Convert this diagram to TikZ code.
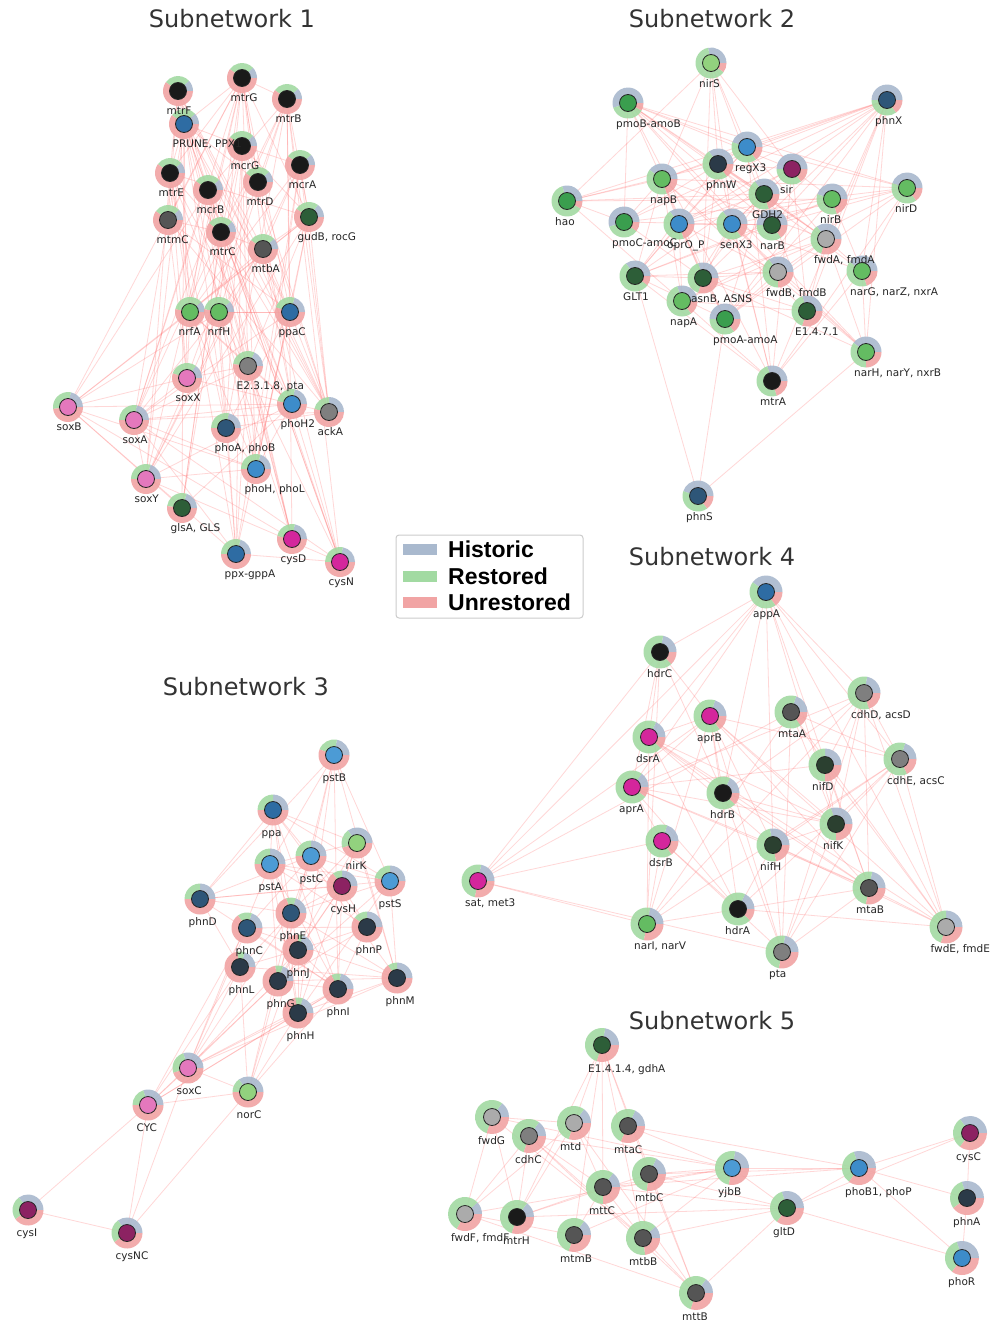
\documentclass[tikz,border=0pt]{standalone}
\usepackage{fontspec}
\setmainfont{DejaVu Sans}
\newfontfamily\legfont{Liberation Sans}
\definecolor{histc}{HTML}{A9B9CE}
\definecolor{restc}{HTML}{A2DAA2}
\definecolor{unrc}{HTML}{F1A4A4}
\definecolor{edgec}{HTML}{FF7070}
\definecolor{cBlk}{HTML}{1A1A1A}
\definecolor{cDg}{HTML}{555555}
\definecolor{cMg}{HTML}{7F7F7F}
\definecolor{cLg}{HTML}{ABABAB}
\definecolor{cGd}{HTML}{2D5E38}
\definecolor{cGm}{HTML}{3A9E4E}
\definecolor{cGl}{HTML}{64BC62}
\definecolor{cGp}{HTML}{92D27E}
\definecolor{cBm}{HTML}{3D8CCA}
\definecolor{cBl}{HTML}{4C9BD5}
\definecolor{cBd}{HTML}{2E6CA3}
\definecolor{cSl}{HTML}{2E5678}
\definecolor{cSd}{HTML}{2B3A48}
\definecolor{cPk}{HTML}{E478BD}
\definecolor{cMa}{HTML}{D4269C}
\definecolor{cPu}{HTML}{8C2262}
\definecolor{cNf}{HTML}{2B4030}
\pgfdeclarelayer{back}
\pgfdeclarelayer{bg}
\pgfdeclarelayer{fg}
\pgfsetlayers{back,bg,main,fg}
% #1 id, #2 x, #3 y, #4 historic %, #5 restored %, #6 inner colour, #7 label
\newcommand\gn[7]{%
  \pgfmathsetmacro\gnA{3.6*#4}%
  \pgfmathsetmacro\gnB{3.6*(#4+#5)}%
  \fill[histc, fill opacity=0.9] (#2,-#3) -- ++(0:\RR) arc[start angle=0, end angle=\gnA, radius=\RR] -- cycle;
  \fill[restc, fill opacity=0.9] (#2,-#3) -- ++(\gnA:\RR) arc[start angle=\gnA, end angle=\gnB, radius=\RR] -- cycle;
  \fill[unrc, fill opacity=0.9] (#2,-#3) -- ++(\gnB:\RR) arc[start angle=\gnB, end angle=360, radius=\RR] -- cycle;
  \node[coreC, fill=#6] (#1) at (#2,-#3) {};
  \begin{pgfonlayer}{fg}\node[lab] at ({#2-\LX},{-#3-\LO}) {#7};\end{pgfonlayer}%
}
\begin{document}
\begin{tikzpicture}[x=1pt, y=1pt,
  lnk/.style={draw=edgec, line width=0.8pt, opacity=0.28},
  coreC/.style={circle, draw=black!85, line width=0.8pt, minimum size=17pt, inner sep=0pt},
  lab/.style={anchor=base west, inner sep=0pt, font=\fontsize{10.5}{12}\selectfont, text=black!85},
  ttl/.style={anchor=base, inner sep=0pt, font=\fontsize{24}{28}\selectfont, text=black!80},
  leg/.style={anchor=west, inner sep=0pt, font=\legfont\bfseries\fontsize{23}{26}\selectfont, text=black}]
\begin{pgfonlayer}{back}
\fill[white] (0,0) rectangle (990,-1325);
\end{pgfonlayer}
\useasboundingbox (0,0) rectangle (990,-1325);

% titles
\node[ttl] (t1) at (232,-27.5) {Subnetwork 1};
\node[ttl] (t2) at (712,-27.5) {Subnetwork 2};
\node[ttl] (t3) at (246,-695.5) {Subnetwork 3};
\node[ttl] (t4) at (712,-565.5) {Subnetwork 4};
\node[ttl] (t5) at (712,-1029.5) {Subnetwork 5};

% ---------------- Subnetwork 1 ----------------
\def\RR{15}\def\LO{23.5}\def\LX{11.5}
\gn{a1}{178}{91}{12}{28}{cBlk}{mtrF}
\gn{a2}{242}{78}{12}{28}{cBlk}{mtrG}
\gn{a3}{287}{99}{12}{28}{cBlk}{mtrB}
\gn{a4}{184}{124}{12}{28}{cBd}{PRUNE, PPX1}
\gn{a5}{242}{146}{12}{28}{cBlk}{mcrG}
\gn{a6}{170}{173}{12}{28}{cBlk}{mtrE}
\gn{a7}{300}{165}{12}{28}{cBlk}{mcrA}
\gn{a8}{208}{190}{12}{28}{cBlk}{mcrB}
\gn{a9}{258}{182}{12}{28}{cBlk}{mtrD}
\gn{a10}{168}{220}{12}{28}{cDg}{mtmC}
\gn{a11}{309}{217}{15}{26}{cGd}{gudB, rocG}
\gn{a12}{221}{232}{12}{28}{cBlk}{mtrC}
\gn{a13}{263}{249}{12}{28}{cDg}{mtbA}
\gn{a14}{190}{312}{12}{35}{cGl}{nrfA}
\gn{a15}{219}{312}{12}{35}{cGl}{nrfH}
\gn{a16}{290}{312}{20}{25}{cBd}{ppaC}
\gn{a17}{248}{366}{18}{30}{cMg}{E2.3.1.8, pta}
\gn{a18}{187}{378}{15}{30}{cPk}{soxX}
\gn{a19}{68}{407}{22}{30}{cPk}{soxB}
\gn{a20}{134}{420}{22}{28}{cPk}{soxA}
\gn{a21}{292}{404}{22}{25}{cBm}{phoH2}
\gn{a22}{329}{412}{25}{22}{cMg}{ackA}
\gn{a23}{226}{428}{22}{28}{cSl}{phoA, phoB}
\gn{a24}{256}{469}{20}{30}{cBm}{phoH, phoL}
\gn{a25}{146}{479}{20}{30}{cPk}{soxY}
\gn{a26}{182}{508}{20}{28}{cGd}{glsA, GLS}
\gn{a27}{292}{539}{22}{25}{cMa}{cysD}
\gn{a28}{236}{554}{20}{30}{cBd}{ppx-gppA}
\gn{a29}{340}{562}{22}{28}{cMa}{cysN}

% ---------------- Subnetwork 2 ----------------
\def\RR{15.5}\def\LO{24.5}\def\LX{12}
\gn{b1}{711}{63}{28}{62}{cGp}{nirS}
\gn{b2}{628}{103}{55}{37}{cGm}{pmoB-amoB}
\gn{b3}{887}{100}{50}{35}{cSl}{phnX}
\gn{b4}{747}{147}{45}{40}{cBm}{regX3}
\gn{b5}{718}{164}{35}{50}{cSd}{phnW}
\gn{b6}{792}{169}{50}{35}{cPu}{sir}
\gn{b7}{662}{179}{40}{40}{cGl}{napB}
\gn{b8}{764}{194}{35}{45}{cGd}{GDH2}
\gn{b9}{907}{188}{45}{40}{cGl}{nirD}
\gn{b10}{567}{201}{30}{62}{cGm}{hao}
\gn{b11}{832}{199}{45}{35}{cGl}{nirB}
\gn{b12}{624}{222}{55}{35}{cGm}{pmoC-amoC}
\gn{b13}{679}{224}{35}{45}{cBm}{oprO\_P}
\gn{b14}{732}{224}{35}{50}{cBm}{senX3}
\gn{b15}{772}{225}{50}{35}{cGd}{narB}
\gn{b16}{826}{239}{35}{35}{cLg}{fwdA, fmdA}
\gn{b17}{635}{276}{35}{55}{cGd}{GLT1}
\gn{b18}{703}{278}{30}{40}{cGd}{asnB, ASNS}
\gn{b19}{778}{272}{35}{40}{cLg}{fwdB, fmdB}
\gn{b20}{862}{271}{40}{40}{cGl}{narG, narZ, nxrA}
\gn{b21}{682}{301}{30}{55}{cGl}{napA}
\gn{b22}{807}{311}{30}{40}{cGd}{E1.4.7.1}
\gn{b23}{725}{319}{50}{35}{cGm}{pmoA-amoA}
\gn{b24}{866}{352}{40}{35}{cGl}{narH, narY, nxrB}
\gn{b25}{772}{381}{30}{50}{cBlk}{mtrA}
\gn{b26}{698}{496}{45}{40}{cSl}{phnS}

% ---------------- Subnetwork 3 ----------------
\def\RR{15.5}\def\LO{26}\def\LX{11.5}
\gn{c1}{334}{755}{22}{22}{cBl}{pstB}
\gn{c2}{273}{810}{25}{25}{cBd}{ppa}
\gn{c3}{357}{843}{35}{20}{cGp}{nirK}
\gn{c4}{311}{856}{25}{25}{cBl}{pstC}
\gn{c5}{270}{864}{25}{25}{cBl}{pstA}
\gn{c6}{390}{881}{25}{22}{cBl}{pstS}
\gn{c7}{342}{886}{25}{10}{cPu}{cysH}
\gn{c8}{200}{899}{25}{25}{cSl}{phnD}
\gn{c9}{291}{913}{20}{10}{cSl}{phnE}
\gn{c10}{247}{928}{20}{15}{cSl}{phnC}
\gn{c11}{367}{927}{25}{15}{cSd}{phnP}
\gn{c12}{298}{950}{20}{5}{cSd}{phnJ}
\gn{c13}{240}{967}{20}{8}{cSd}{phnL}
\gn{c14}{278}{981}{20}{8}{cSd}{phnG}
\gn{c15}{397}{978}{25}{10}{cSd}{phnM}
\gn{c16}{338}{989}{22}{10}{cSd}{phnI}
\gn{c17}{298}{1013}{20}{8}{cSd}{phnH}
\gn{c18}{188}{1068}{30}{25}{cPk}{soxC}
\gn{c19}{248}{1092}{35}{15}{cGp}{norC}
\gn{c20}{148}{1105}{30}{20}{cPk}{CYC}
\gn{c21}{28}{1210}{35}{25}{cPu}{cysI}
\gn{c22}{127}{1233}{35}{25}{cPu}{cysNC}

% ---------------- Subnetwork 4 ----------------
\def\RR{16.5}\def\LO{25}\def\LX{13}
\gn{d1}{766}{592}{40}{45}{cBd}{appA}
\gn{d2}{660}{652}{22}{65}{cBlk}{hdrC}
\gn{d3}{864}{693}{22}{58}{cMg}{cdhD, acsD}
\gn{d4}{710}{716}{20}{65}{cMa}{aprB}
\gn{d5}{791}{712}{20}{65}{cDg}{mtaA}
\gn{d6}{649}{737}{18}{70}{cMa}{dsrA}
\gn{d7}{900}{759}{20}{62}{cMg}{cdhE, acsC}
\gn{d8}{825}{765}{25}{50}{cNf}{nifD}
\gn{d9}{632}{787}{15}{75}{cMa}{aprA}
\gn{d10}{723}{793}{18}{70}{cBlk}{hdrB}
\gn{d11}{836}{824}{30}{45}{cNf}{nifK}
\gn{d12}{662}{841}{20}{65}{cMa}{dsrB}
\gn{d13}{773}{845}{28}{50}{cNf}{nifH}
\gn{d14}{782}{952}{22}{50}{cMg}{pta}
\gn{d15}{869}{888}{22}{50}{cDg}{mtaB}
\gn{d16}{738}{909}{18}{70}{cBlk}{hdrA}
\gn{d17}{647}{924}{22}{50}{cGl}{narI, narV}
\def\LX{15.5}
\gn{d18}{946}{927}{25}{45}{cLg}{fwdE, fmdE}
\def\LX{13}
\gn{d19}{478}{881}{22}{50}{cMa}{sat, met3}

% ---------------- Subnetwork 5 ----------------
\def\RR{17}\def\LO{27}\def\LX{14}
\gn{e1}{602}{1045}{22}{48}{cGd}{E1.4.1.4, gdhA}
\gn{e2}{492}{1117}{15}{55}{cLg}{fwdG}
\gn{e3}{529}{1136}{15}{55}{cMg}{cdhC}
\gn{e4}{574}{1123}{15}{55}{cLg}{mtd}
\gn{e5}{628}{1126}{18}{50}{cDg}{mtaC}
\gn{e6}{649}{1174}{18}{55}{cDg}{mtbC}
\gn{e7}{732}{1168}{22}{50}{cBl}{yjbB}
\gn{e8}{603}{1187}{15}{60}{cDg}{mttC}
\gn{e9}{465}{1214}{12}{55}{cLg}{fwdF, fmdF}
\gn{e10}{517}{1217}{15}{55}{cBlk}{mtrH}
\gn{e11}{574}{1235}{15}{55}{cDg}{mtmB}
\gn{e12}{643}{1238}{12}{65}{cDg}{mtbB}
\gn{e13}{696}{1293}{15}{55}{cDg}{mttB}
\gn{e14}{970}{1133}{35}{30}{cPu}{cysC}
\gn{e15}{859}{1168}{30}{35}{cBm}{phoB1, phoP}
\gn{e16}{787}{1208}{30}{35}{cGd}{gltD}
\gn{e17}{967}{1198}{30}{30}{cSd}{phnA}
\gn{e18}{962}{1258}{30}{35}{cBm}{phoR}

% ---------------- connectors ----------------
\begin{pgfonlayer}{bg}
\pgfmathsetseed{11}
\foreach \i in {1,...,29}{\foreach \j in {\i,...,29}{\ifnum\j>\i
  \pgfmathtruncatemacro\k{100*rnd}\ifnum\k<37 \draw[lnk] (a\i) -- (a\j);\fi\fi}}
\foreach \i in {1,...,25}{\foreach \j in {\i,...,25}{\ifnum\j>\i
  \pgfmathtruncatemacro\k{100*rnd}\ifnum\k<42 \draw[lnk] (b\i) -- (b\j);\fi\fi}}
\foreach \j in {17,23,24}{\draw[lnk] (b26) -- (b\j);}
\foreach \i in {1,...,17}{\foreach \j in {\i,...,17}{\ifnum\j>\i
  \pgfmathtruncatemacro\k{100*rnd}\ifnum\k<45 \draw[lnk] (c\i) -- (c\j);\fi\fi}}
\foreach \j in {17,16,14,13,12,10,9,15,5,19,20,22}{\draw[lnk] (c18) -- (c\j);}
\foreach \j in {17,16,14,12,9,20,22,13}{\draw[lnk] (c19) -- (c\j);}
\foreach \j in {13,14,10,17,21,22,16}{\draw[lnk] (c20) -- (c\j);}
\draw[lnk] (c21) -- (c22);
\foreach \i in {1,...,18}{\foreach \j in {\i,...,18}{\ifnum\j>\i
  \pgfmathtruncatemacro\k{100*rnd}\ifnum\k<50 \draw[lnk] (d\i) -- (d\j);\fi\fi}}
\foreach \j in {1,2,4,12,5,17,14}{\draw[lnk] (d19) -- (d\j);}
\foreach \i in {1,...,13}{\foreach \j in {\i,...,13}{\ifnum\j>\i
  \pgfmathtruncatemacro\k{100*rnd}\ifnum\k<45 \draw[lnk] (e\i) -- (e\j);\fi\fi}}
\foreach \j in {15,16,17}{\draw[lnk] (e14) -- (e\j);}
\foreach \j in {7,16,17,18,6,8,5}{\draw[lnk] (e15) -- (e\j);}
\foreach \j in {18,7,13,6,8,12,10}{\draw[lnk] (e16) -- (e\j);}
\draw[lnk] (e17) -- (e18);
\end{pgfonlayer}

% ---------------- legend ----------------
\node[draw=black!20, fill=white, rounded corners=3pt, line width=1pt, minimum width=187pt, minimum height=83pt, inner sep=0pt] (lg) at (489.5,-576.5) {};
\fill[histc] (403,-544) rectangle (437,-555);
\fill[restc] (403,-571) rectangle (437,-582);
\fill[unrc] (403,-597) rectangle (437,-608);
\node[leg] (l1) at (448,-549.5) {Historic};
\node[leg] (l2) at (448,-576.5) {Restored};
\node[leg] (l3) at (448,-602.5) {Unrestored};
\end{tikzpicture}
\end{document}
